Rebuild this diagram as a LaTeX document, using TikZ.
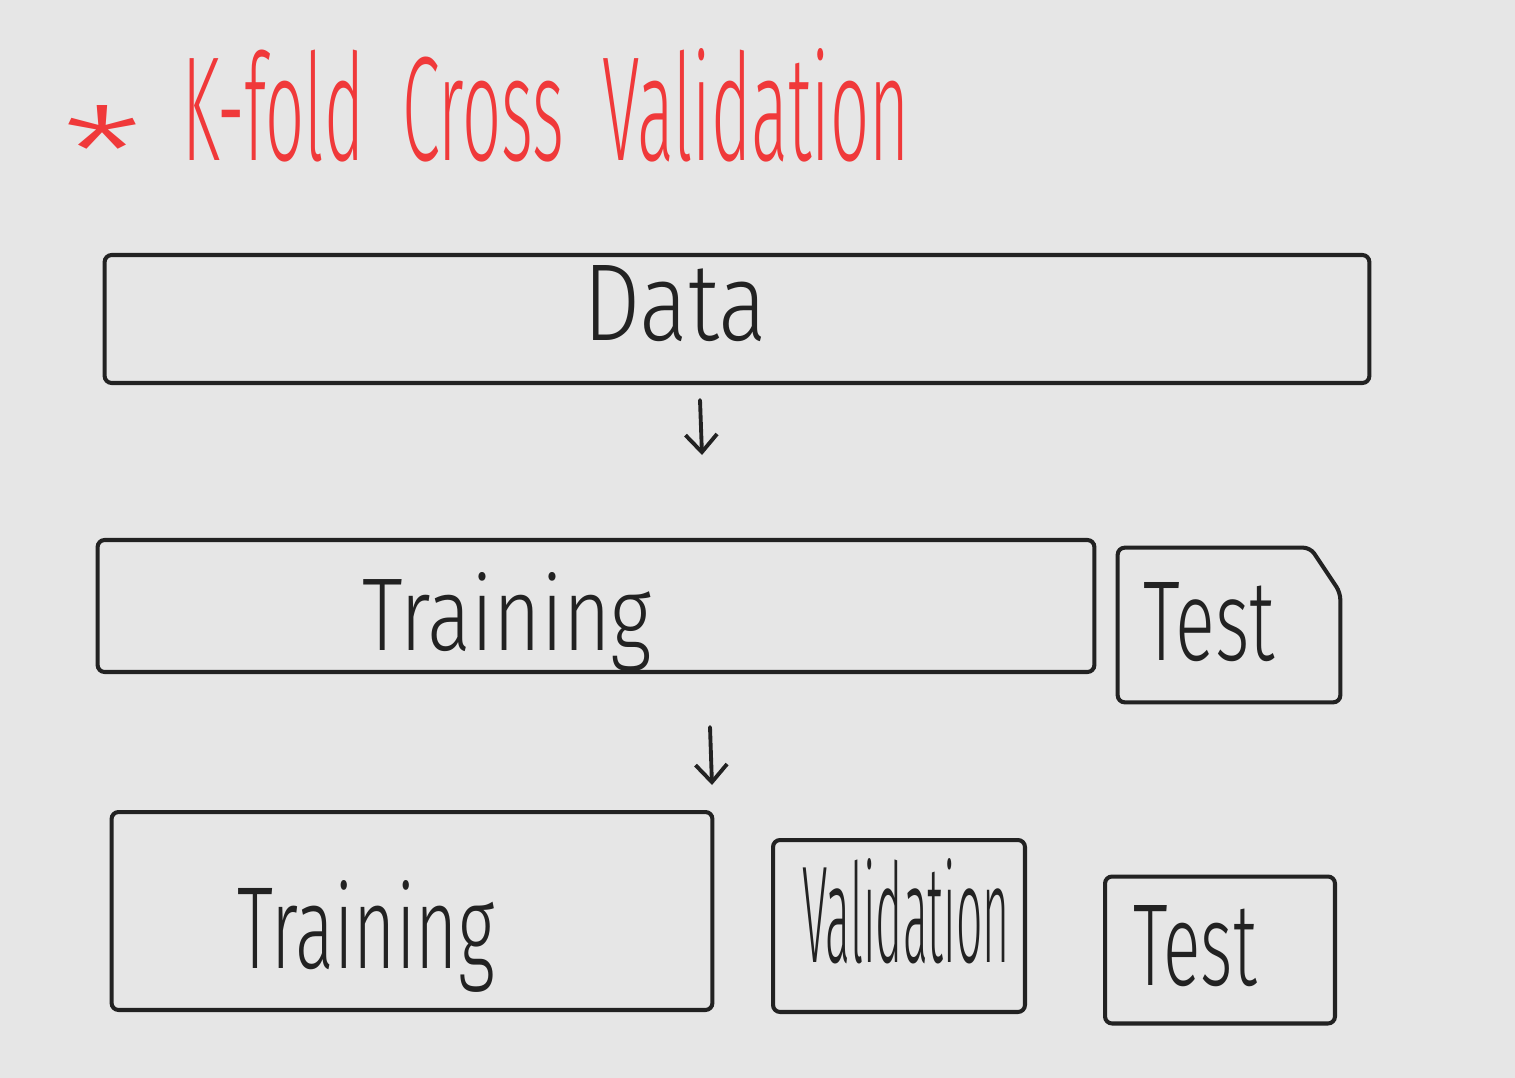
\documentclass[tikz,border=0pt]{standalone}
\usepackage{fontspec}
\newfontfamily\hand{Fira Sans Light}
\usetikzlibrary{arrows.meta,calc}
\definecolor{bg}{HTML}{E6E6E6}
\definecolor{ink}{HTML}{222222}
\definecolor{redink}{HTML}{F0393A}
\begin{document}
\begin{tikzpicture}[x=0.02cm,y=-0.02cm,
  box/.style={draw=ink,line width=2.3pt,rounded corners=4pt,inner sep=0pt},
  hole/.style={inner sep=0pt},
  outline/.style={draw=ink,line width=2.3pt,rounded corners=4pt},
  lbl/.style={inner sep=0pt,text=ink,anchor=base},
  arr/.style={draw=ink,line width=2.2pt,line cap=round,-{Straight Barb[length=10pt,width=18pt,line width=2.2pt]}}]
\fill[bg] (0,0) rectangle (1515,1078);
\useasboundingbox (0,0) rectangle (1515,1078);
% title
\node[inner sep=0pt,anchor=base,text=redink] (star) at (102,197) {\resizebox{1.6cm}{1.84cm}{\hand *}};
\node[inner sep=0pt,anchor=base,text=redink] (title) at (546,160) {\resizebox{14.54cm}{2.24cm}{\hand K-fold\ \ Cross\ \ Validation}};
% boxes
\node[box,minimum width=25.3cm,minimum height=2.56cm] (data) at (737,319) {};
\node[box,minimum width=19.94cm,minimum height=2.64cm] (train1) at (596,606) {};
\node[hole,minimum width=4.44cm,minimum height=3.08cm] (test1) at (1229,625) {};
\draw[outline] (test1.south west) -- (test1.north west) -- ($(test1.north east)+(-30,0)$) -- ($(test1.north east)+(0,45)$) -- (test1.south east) -- cycle;
\node[box,minimum width=12.02cm,minimum height=3.96cm] (train2) at (412,911) {};
\node[box,minimum width=5.04cm,minimum height=3.44cm] (valid) at (899,926) {};
\node[box,minimum width=4.6cm,minimum height=2.94cm] (test2) at (1220,950) {};
% labels
\node[lbl] (tdata) at (675,340) {\resizebox{3.68cm}{1.5cm}{\hand Data}};
\node[lbl] (ttrain1) at (507,650) {\resizebox{5.8cm}{1.56cm}{\hand Training}};
\node[lbl] (ttest1) at (1209,660) {\resizebox{2.64cm}{1.56cm}{\hand Test}};
\node[lbl] (ttrain2) at (366,968) {\resizebox{5.14cm}{1.76cm}{\hand Training}};
\node[lbl] (tvalid) at (906,962) {\resizebox{4.14cm}{2.08cm}{\hand Validation}};
\node[lbl] (ttest2) at (1195,985) {\resizebox{2.48cm}{1.6cm}{\hand Test}};
% arrows
\coordinate (a1s) at (700,400);
\coordinate (a1e) at (702,455);
\coordinate (a2s) at (710,727);
\coordinate (a2e) at (712,785);
\draw[arr] (a1s) -- (a1e);
\draw[arr] (a2s) -- (a2e);
\end{tikzpicture}
\end{document}
